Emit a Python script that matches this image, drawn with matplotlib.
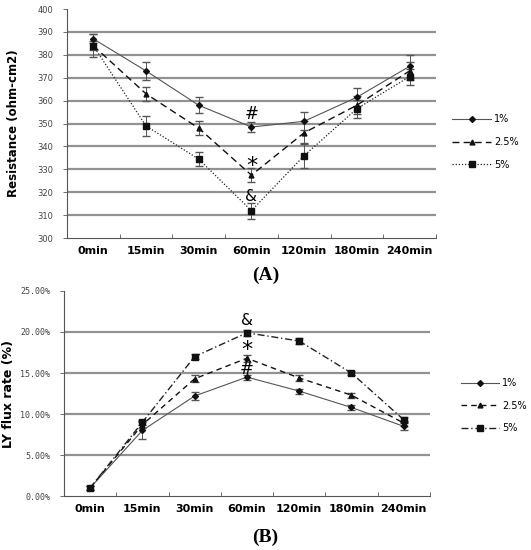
import numpy as np
import matplotlib
matplotlib.use("Agg")
import matplotlib.pyplot as plt
from matplotlib.ticker import FixedLocator

times = ["0min", "15min", "30min", "60min", "120min", "180min", "240min"]
groups = ["1%", "2.5%", "5%"]

# panel A: resistance (ohm-cm2)
res_1 = [387, 373, 358, 348.5, 351, 361.5, 375]
res_1_err = [2, 4, 3.5, 2, 4, 4, 5]
res_25 = [384, 363, 348, 327.5, 346, 358, 373]
res_25_err = [2, 3, 3, 3, 5, 4, 4]
res_5 = [384, 349, 334.5, 312, 336, 356.5, 370.5]
res_5_err = [5, 4.5, 3, 3.5, 5.5, 4, 3.5]

# panel B: LY flux rate (%)
ly_1 = [1.0, 8.0, 12.2, 14.5, 12.8, 10.8, 8.5]
ly_1_err = [0.2, 1.0, 0.5, 0.3, 0.3, 0.3, 0.4]
ly_25 = [1.0, 8.7, 14.3, 16.8, 14.4, 12.3, 8.9]
ly_25_err = [0.2, 0.4, 0.4, 0.4, 0.4, 0.3, 0.3]
ly_5 = [1.0, 9.0, 17.0, 19.9, 18.9, 15.0, 9.3]
ly_5_err = [0.2, 0.3, 0.3, 0.4, 0.4, 0.3, 0.3]

fig = plt.figure(figsize=(5.31, 5.50), dpi=100)
x = np.arange(len(times))


def style_axes(ax, ylim, yticks, grid_vals, fmt, mono):
    ax.set_xlim(-0.5, 6.5)
    ax.set_ylim(*ylim)
    for g in grid_vals:
        ax.axhline(g, color="#929292", lw=1.6, zorder=0)
    ax.spines["top"].set_visible(False)
    ax.spines["right"].set_visible(False)
    for s in ["left", "bottom"]:
        ax.spines[s].set_color("#555555")
        ax.spines[s].set_linewidth(0.8)
    ax.set_yticks(yticks)
    ax.set_yticklabels([fmt(v) for v in yticks], fontsize=6, color="#444444",
                       family="DejaVu Sans Mono" if mono else "DejaVu Sans")
    ax.tick_params(axis="y", length=3, width=0.6, color="#555555", pad=7)
    ax.set_xticks(x)
    ax.set_xticklabels(times, fontsize=8, fontweight="bold")
    ax.tick_params(axis="x", which="major", length=0, pad=6)
    ax.xaxis.set_minor_locator(FixedLocator(np.arange(-0.5, 7, 1.0)))
    ax.tick_params(axis="x", which="minor", direction="in", length=3,
                   width=0.6, color="#555555")


def draw(ax, vals, errs, styles):
    handles = []
    for v, e, (lab, ls, mk, ms, lw, col) in zip(vals, errs, styles):
        c = ax.errorbar(x, v, yerr=e, color=col, lw=lw, ls=ls, marker=mk, ms=ms,
                        mfc="#111111", mec="#111111",
                        capsize=3, elinewidth=0.7, ecolor="#555555")
        handles.append(c[0])
    return handles


# ---- panel A
ax1 = fig.add_axes([0.126, 0.567, 0.695, 0.4166])
style_axes(ax1, (300, 400), np.arange(300, 401, 10), np.arange(310, 391, 10),
           lambda v: "%d" % v, False)
styles_a = [("1%", "-", "D", 3, 0.8, "#555555"),
            ("2.5%", (0, (5, 3)), "^", 3.5, 1.0, "#111111"),
            ("5%", (0, (1, 1.5)), "s", 4, 0.9, "#222222")]
h1 = draw(ax1, [res_1, res_25, res_5], [res_1_err, res_25_err, res_5_err], styles_a)
ax1.set_ylabel("Resistance (ohm-cm2)", fontsize=8.5, fontweight="bold", labelpad=12)
ax1.text(3, 354, "#", ha="center", va="center", fontsize=12)
ax1.text(3, 331.5, "*", ha="center", va="center", fontsize=16)
ax1.text(3, 318, "&", ha="center", va="center", fontsize=11)
ax1.legend(h1, groups, loc="center left", bbox_to_anchor=(1.02, 0.42), frameon=False,
           fontsize=7, handlelength=4.0, labelspacing=1.3, handletextpad=0.3)
fig.text(0.5, 0.5, "(A)", ha="center", va="center", fontsize=14,
         fontweight="bold", family="Liberation Serif")

# ---- panel B
ax2 = fig.add_axes([0.1205, 0.098, 0.689, 0.373])
style_axes(ax2, (0, 25), np.arange(0, 26, 5), np.arange(5, 21, 5),
           lambda v: "%.2f%%" % v, True)
styles_b = [("1%", "-", "D", 3, 0.8, "#555555"),
            ("2.5%", (0, (4, 3)), "^", 3.5, 1.0, "#111111"),
            ("5%", (0, (5, 2, 1, 2)), "s", 4, 1.0, "#222222")]
h2 = draw(ax2, [ly_1, ly_25, ly_5], [ly_1_err, ly_25_err, ly_5_err], styles_b)
ax2.set_ylabel("LY flux rate (%)", fontsize=9, fontweight="bold", labelpad=4)
ax2.text(3, 21.4, "&", ha="center", va="center", fontsize=11)
ax2.text(3, 17.8, "*", ha="center", va="center", fontsize=16)
ax2.text(3, 15.5, "#", ha="center", va="center", fontsize=12)
ax2.legend(h2, groups, loc="center left", bbox_to_anchor=(1.06, 0.44), frameon=False,
           fontsize=7, handlelength=4.0, labelspacing=1.3, handletextpad=0.3)
fig.text(0.5, 0.023, "(B)", ha="center", va="center", fontsize=14,
         fontweight="bold", family="Liberation Serif")

fig.savefig("out.png", dpi=100)
